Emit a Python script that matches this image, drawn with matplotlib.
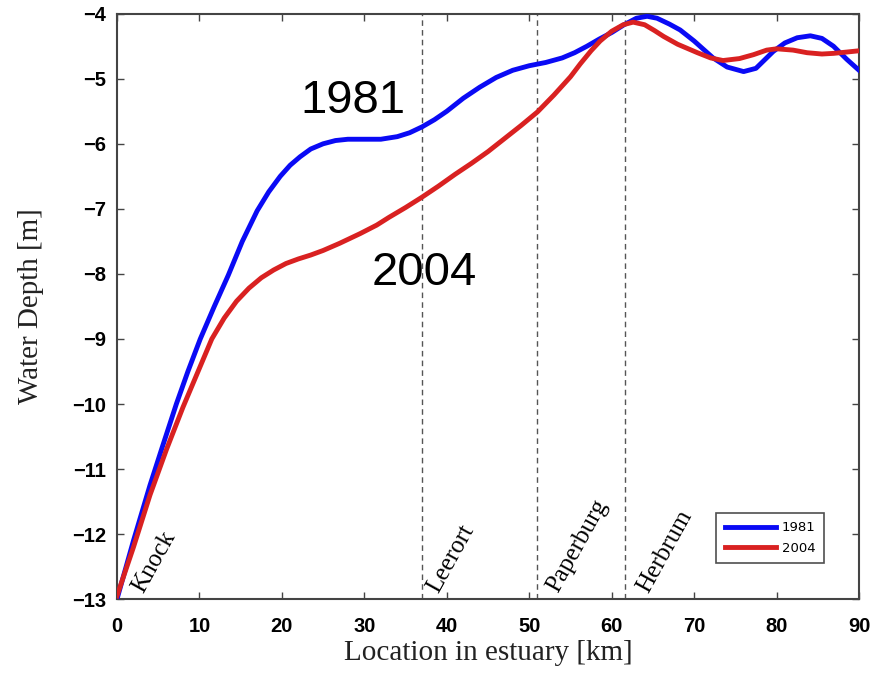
import numpy as np
import matplotlib.pyplot as plt
from matplotlib.lines import Line2D

# Along-channel mean depth, read at stations in km
km_1981 = [0, 2, 4, 5.5, 7.2, 8.6, 10.1, 11.8, 13.5, 15.2, 17, 18.4, 19.8, 21, 22.2,
           23.5, 25, 26.5, 28, 30, 32, 34, 35.5, 37, 38.5, 40, 42, 44, 46, 48, 50,
           52, 54, 55.5, 57, 58.5, 60, 61.5, 63, 64.3, 65.5, 67, 68.3, 70, 72.3,
           74, 76, 77.5, 79.6, 81, 82.5, 84.1, 85.5, 86.9, 88.5, 90]
depth_1981 = [-13, -12.1, -11.25, -10.66, -10.0, -9.5, -9.0, -8.5, -8.02, -7.5, -7.03,
              -6.74, -6.5, -6.33, -6.2, -6.08, -6.0, -5.95, -5.93, -5.93, -5.93,
              -5.89, -5.83, -5.74, -5.63, -5.5, -5.3, -5.13, -4.98, -4.87, -4.8,
              -4.75, -4.68, -4.6, -4.5, -4.39, -4.29, -4.17, -4.07, -4.04, -4.07,
              -4.16, -4.25, -4.42, -4.68, -4.82, -4.89, -4.84, -4.58, -4.45, -4.37,
              -4.34, -4.38, -4.5, -4.7, -4.87]

km_2004 = [0, 2, 4, 6, 8, 10, 11.5, 13, 14.5, 16, 17.5, 19, 20.5, 22, 23.5, 25, 27,
           29.5, 31.5, 33, 35, 37, 39, 41, 43, 45, 47, 49, 51, 53, 55, 56.2, 57.5,
           58.6, 60, 61.4, 62.6, 64, 65.2, 66.3, 68, 70.4, 72, 73.5, 75.5, 77.2,
           78.8, 80, 82, 83.7, 85.5, 86.9, 88.5, 90]
depth_2004 = [-12.95, -12.2, -11.4, -10.7, -10.05, -9.45, -9.0, -8.68, -8.42, -8.22,
              -8.06, -7.94, -7.84, -7.77, -7.71, -7.64, -7.53, -7.38, -7.25, -7.13,
              -6.98, -6.82, -6.65, -6.47, -6.3, -6.12, -5.92, -5.72, -5.51, -5.25,
              -4.97, -4.77, -4.57, -4.42, -4.27, -4.17, -4.13, -4.17, -4.26, -4.35,
              -4.47, -4.6, -4.68, -4.72, -4.69, -4.63, -4.56, -4.54, -4.56, -4.6,
              -4.62, -4.61, -4.59, -4.57]

stations = ['Knock', 'Leerort', 'Paperburg', 'Herbrum']
station_km = [0, 37, 51, 61.6]
label_shift = [3.2, 2.0, 2.5, 2.8]

blue = '#0a0af5'
red = '#d92121'

fig = plt.figure(figsize=(8.73, 6.84), dpi=100)
ax = fig.add_axes([0.134, 0.124, 0.850, 0.856])

ax.plot(km_1981, depth_1981, color=blue, lw=3.5, solid_joinstyle='round', zorder=3)
ax.plot(km_2004, depth_2004, color=red, lw=3.5, solid_joinstyle='round', zorder=3)

for name, x, dx in zip(stations, station_km, label_shift):
    if x > 0:
        ax.axvline(x, color='#555555', lw=1, ls=(0, (4, 3)), zorder=1)
    ax.text(x + dx, -12.92, name, rotation=61, rotation_mode='anchor',
            ha='left', va='baseline', fontsize=18, family='Liberation Serif')

ax.text(22.2, -5.52, '1981', fontsize=34, family='Liberation Sans')
ax.text(30.9, -8.17, '2004', fontsize=34, family='Liberation Sans')

ax.set_xlim(0, 90)
ax.set_ylim(-13, -4)
ax.set_xticks(np.arange(0, 91, 10))
ax.set_yticks(np.arange(-13, -3, 1))
ax.tick_params(direction='in', top=True, right=True, length=5, width=1,
               color='#444444', labelsize=14.5)
ax.tick_params(axis='x', pad=13)
ax.tick_params(axis='y', pad=8)
for lab in ax.get_xticklabels() + ax.get_yticklabels():
    lab.set_fontweight('bold')
    lab.set_family('Liberation Sans')
for sp in ax.spines.values():
    sp.set_color('#444444')
    sp.set_linewidth(1.5)

ax.set_xlabel('Location in estuary [km]', fontsize=21, family='Liberation Serif',
              color='#222222', labelpad=3)
ax.set_ylabel('Water Depth [m]', fontsize=21, family='Liberation Serif',
              color='#222222', labelpad=20)

handles = [Line2D([], [], color=blue, lw=3.5), Line2D([], [], color=red, lw=3.5)]
leg = ax.legend(handles, ['1981', '2004'], loc='lower right',
                bbox_to_anchor=(0.962, 0.05), fontsize=9.5, frameon=True,
                fancybox=False, edgecolor='#222222', handlelength=3.9,
                borderpad=0.65, labelspacing=0.55, handletextpad=0.45)
leg.get_frame().set_linewidth(1.2)

fig.savefig('out.png', dpi=100)
